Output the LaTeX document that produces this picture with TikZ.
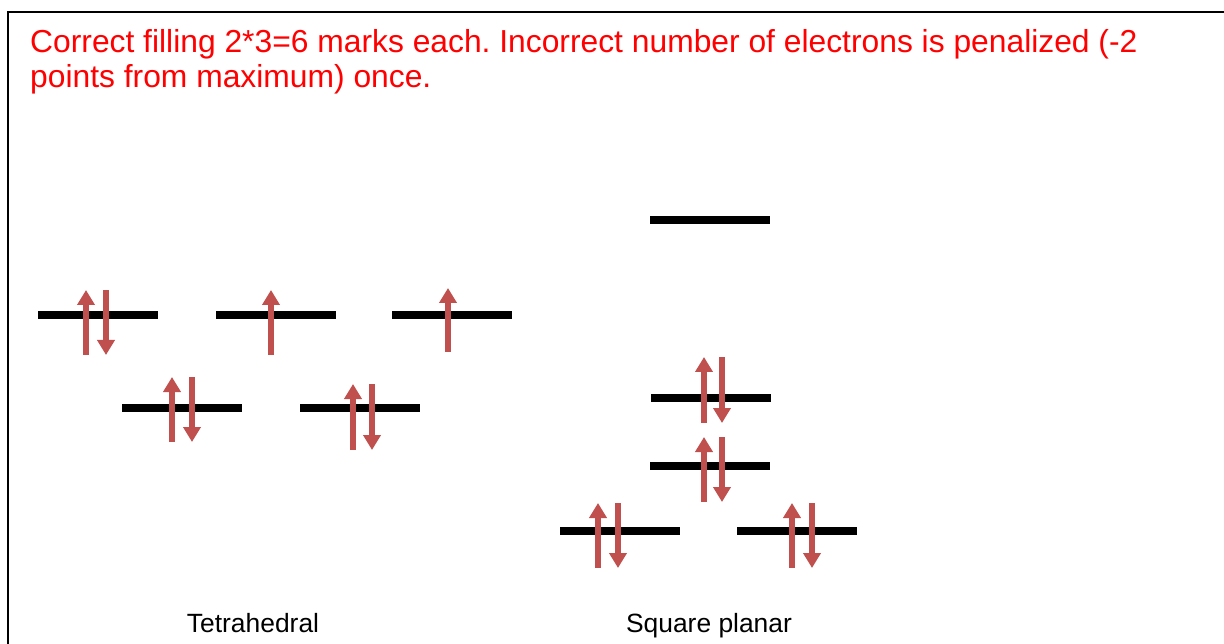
\documentclass[tikz,border=0pt]{standalone}
\usepackage{fontspec}
\setmainfont{Liberation Sans}
\usepackage{xcolor}
\usetikzlibrary{arrows.meta}
\definecolor{spinred}{RGB}{192,80,77}
\frenchspacing

\begin{document}
\begin{tikzpicture}[
        x=1pt, y=-1pt,
        level/.style={line width=8pt},
        spin/.style={
            spinred,
            line width=6pt,
            -{Triangle[width=17pt,length=15pt]}
        },
        frameline/.style={line width=2pt},
        caption/.style={
            anchor=base,
            inner sep=0pt,
            font=\fontsize{26.4}{30}\selectfont
        }
    ]
    \useasboundingbox (0,0) rectangle (1224,644);

    % frame
    \draw[frameline] (8,644) -- (8,12) -- (1224,12);

    \node[anchor=base west, inner sep=0pt, text=red, align=left,
        font=\fontsize{31.8}{35}\selectfont] (note) at (30,88)
        {Correct filling 2*3=6 marks each. Incorrect number of electrons is penalized (-2\\
         points from maximum) once.};

    % tetrahedral
    \draw[level] (38,315) -- (158,315);
    \draw[level] (216,315) -- (336,315);
    \draw[level] (392,315) -- (512,315);
    \draw[level] (122,408) -- (242,408);
    \draw[level] (300,408) -- (420,408);

    \draw[spin] (86,355) -- (86,290);
    \draw[spin] (106,290) -- (106,355);
    \draw[spin] (271,355) -- (271,290);
    \draw[spin] (448,352) -- (448,288);
    \draw[spin] (172,442) -- (172,377);
    \draw[spin] (192,377) -- (192,442);
    \draw[spin] (353,450) -- (353,384);
    \draw[spin] (372,384) -- (372,450);

    \node[caption] (tetra) at (253,632) {Tetrahedral};

    % square planar
    \draw[level] (650,220) -- (770,220);
    \draw[level] (651,398) -- (771,398);
    \draw[level] (650,466) -- (770,466);
    \draw[level] (560,531) -- (680,531);
    \draw[level] (737,531) -- (857,531);

    \draw[spin] (704,423) -- (704,357);
    \draw[spin] (722,357) -- (722,423);
    \draw[spin] (704,502) -- (704,437);
    \draw[spin] (722,437) -- (722,502);
    \draw[spin] (598,568) -- (598,503);
    \draw[spin] (618,503) -- (618,568);
    \draw[spin] (792,568) -- (792,503);
    \draw[spin] (812,503) -- (812,568);

    \node[caption] (square) at (709,632) {Square planar};

\end{tikzpicture}
\end{document}
